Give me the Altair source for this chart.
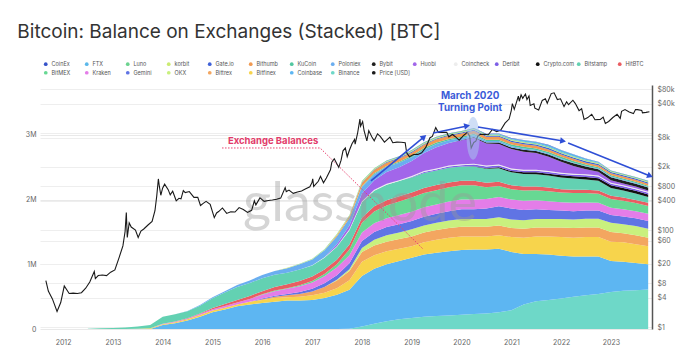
import altair as alt
import pandas as pd

TITLE = "Bitcoin: Balance on Exchanges (Stacked) [BTC]"

legend_names = ["CoinEx", "FTX", "Luno", "korbit", "Gate.io", "Bithumb", "KuCoin", "Poloniex",
                "Bybit", "Huobi", "Coincheck", "Deribit", "Crypto.com", "Bitstamp", "HitBTC",
                "BitMEX", "Kraken", "Gemini", "OKX", "Bittrex", "Bitfinex", "Coinbase", "Binance",
                "Price [USD]"]
legend_colors = ["#3653c9", "#5bb8ea", "#6cd38f", "#cbeb72", "#4062d8", "#f19a52", "#52c7a0", "#6aaef0",
                 "#1f1f1f", "#a266ea", "#ededed", "#7d5fe6", "#111111", "#63d1b2", "#ea5d62",
                 "#67d893", "#e47de8", "#6074e4", "#c9f07e", "#f3a660", "#f7d44c", "#5db6f2", "#6ed8c8",
                 "#1a1a1a"]

stack_bottom_up = ["Binance", "Coinbase", "Bitfinex", "Bittrex", "OKX", "Gemini", "Kraken", "BitMEX",
                   "HitBTC", "Bitstamp", "Crypto.com", "Deribit", "Coincheck", "Huobi", "Bybit",
                   "Poloniex", "KuCoin", "Bithumb", "Gate.io", "korbit", "Luno", "FTX", "CoinEx"]

# quarterly sample dates 2012-07 .. 2023-10
quarter_dates = [d.strftime("%Y-%m-%d") for d in pd.date_range("2012-07-01", "2023-10-01", freq="QS")]

# balances in thousands of BTC (2012: 2 values, then 4 per year)
balances_k = {
    "Binance":    [0,0, 0,0,0,0, 0,0,0,0, 0,0,0,0, 0,0,0,0, 0,0,0,5, 40,80,120,150, 170,190,200,210, 220,230,240,260, 290,380,430,450, 470,500,520,540, 570,590,600,610],
    "Coinbase":   [0,0, 0,0,0,0, 60,90,130,190, 260,300,350,380, 400,420,440,440, 450,480,530,600, 780,850,880,900, 930,960,980,990, 1000,1000,990,980, 900,780,730,700, 660,620,600,580, 480,450,420,390],
    "Bitfinex":   [0,0, 0,0,5,10, 15,15,20,25, 25,30,30,40, 50,60,50,60, 70,80,100,150, 220,210,200,190, 180,190,200,210, 210,200,200,210, 230,250,270,280, 290,290,300,300, 300,300,290,280],
    "Bittrex":    [0,0, 0,0,0,0, 0,0,0,0, 0,0,0,0, 10,20,30,40, 60,90,120,140, 150,150,150,150, 150,150,150,150, 150,150,150,150, 140,140,140,140, 150,150,150,150, 150,140,140,130],
    "OKX":        [0,0, 0,0,0,0, 0,0,0,0, 0,0,0,0, 0,0,0,0, 0,0,10,30, 60,90,100,100, 110,110,110,115, 120,120,120,125, 130,130,130,130, 130,130,135,135, 140,140,140,140],
    "Gemini":     [0,0, 0,0,0,0, 0,0,0,0, 0,0,0,0, 10,15,20,30, 40,55,70,90, 110,120,125,130, 130,135,140,145, 150,150,160,170, 170,160,150,140, 130,130,125,125, 120,120,120,120],
    "Kraken":     [0,0, 0,0,0,0, 5,8,10,15, 20,25,30,45, 60,70,80,90, 100,110,120,125, 130,135,135,140, 140,145,145,150, 150,150,150,145, 140,140,140,135, 130,130,125,120, 115,110,110,110],
    "BitMEX":     [0,0, 0,0,0,0, 0,0,0,0, 0,0,0,0, 5,8,10,15, 20,35,50,90, 150,180,200,210, 220,220,220,220, 220,220,180,170, 160,160,155,155, 150,150,145,140, 135,130,125,120],
    "HitBTC":     [0,0, 0,0,0,0, 0,3,5,10, 20,30,40,45, 50,55,60,65, 70,70,70,75, 80,80,80,80, 80,80,80,75, 70,70,70,65, 60,60,55,55, 50,50,50,50, 50,50,50,50],
    "Bitstamp":   [5,10, 15,25,35,50, 110,110,110,120, 150,180,200,200, 200,190,180,180, 170,180,200,220, 240,240,240,235, 230,230,225,225, 220,220,215,210, 200,195,190,185, 180,175,160,150, 120,110,100,90],
    "Crypto.com": [0,0, 0,0,0,0, 0,0,0,0, 0,0,0,0, 0,0,0,0, 0,0,0,0, 0,0,0,0, 0,0,0,0, 0,5,10,15, 20,25,30,30, 35,35,40,40, 40,40,40,40],
    "Deribit":    [0,0, 0,0,0,0, 0,0,0,0, 0,0,0,0, 0,0,0,0, 0,0,0,0, 0,0,0,0, 10,15,15,20, 20,25,25,25, 25,25,25,25, 25,25,25,25, 25,25,25,25],
    "Coincheck":  [0,0, 0,0,0,0, 0,0,0,0, 0,0,0,0, 0,0,0,0, 5,8,10,15, 15,15,15,15, 15,15,15,15, 15,15,15,15, 15,15,15,15, 15,15,15,15, 15,15,15,15],
    "Huobi":      [0,0, 0,0,0,0, 0,0,0,0, 0,0,0,0, 0,0,0,0, 0,0,30,60, 120,150,180,200, 230,280,330,350, 370,400,340,320, 300,280,260,220, 170,120,80,60, 40,30,25,20],
    "Bybit":      [0,0, 0,0,0,0, 0,0,0,0, 0,0,0,0, 0,0,0,0, 0,0,0,0, 0,0,0,0, 0,0,0,0, 5,10,15,20, 25,30,30,35, 35,40,40,40, 45,45,45,45],
    "Poloniex":   [0,0, 0,0,0,0, 0,0,5,10, 15,20,30,40, 50,60,70,80, 90,110,120,110, 100,90,80,70, 60,55,50,40, 30,30,25,25, 20,20,15,15, 15,10,10,10, 10,10,10,10],
    "KuCoin":     [0,0, 0,0,0,0, 0,0,0,0, 0,0,0,0, 0,0,0,0, 0,0,0,0, 10,15,15,15, 20,20,20,20, 20,20,20,20, 25,25,25,25, 25,25,20,20, 20,20,20,20],
    "Bithumb":    [0,0, 0,0,0,0, 0,0,0,0, 0,0,0,0, 0,0,0,0, 0,0,20,30, 50,50,50,50, 50,50,50,50, 50,50,45,45, 40,40,40,40, 35,35,30,30, 30,30,30,30],
    "Gate.io":    [0,0, 0,0,0,0, 0,0,0,0, 0,0,0,0, 0,0,0,0, 0,0,0,0, 10,10,10,10, 15,15,15,15, 15,15,15,15, 20,20,20,20, 20,20,20,20, 20,20,20,20],
    "korbit":     [0,0, 0,0,0,0, 0,0,0,0, 0,0,0,0, 0,0,5,5, 5,8,10,10, 10,10,10,10, 10,10,10,10, 10,10,10,10, 10,10,10,10, 10,10,10,10, 10,10,10,10],
    "Luno":       [0,0, 0,0,0,0, 0,0,0,0, 0,0,0,0, 0,0,3,5, 5,5,8,8, 10,10,10,10, 10,10,10,10, 10,10,10,10, 10,10,10,10, 10,10,10,10, 10,10,10,10],
    "FTX":        [0,0, 0,0,0,0, 0,0,0,0, 0,0,0,0, 0,0,0,0, 0,0,0,0, 0,0,0,0, 0,0,0,0, 0,0,5,10, 15,20,20,25, 25,25,20,10, 0,0,0,0],
    "CoinEx":     [0,0, 0,0,0,0, 0,0,0,0, 0,0,0,0, 0,0,0,0, 0,0,0,0, 0,0,5,5, 5,5,5,5, 5,5,5,5, 5,5,5,5, 5,5,5,5, 5,5,5,5],
}

price_dates = [
    "2011-08-28", "2011-09-15", "2011-10-15", "2011-11-18", "2011-12-15",
    "2012-01-10", "2012-02-15", "2012-03-15", "2012-04-15", "2012-05-15", "2012-06-15", "2012-07-15",
    "2012-08-17", "2012-08-25", "2012-09-15", "2012-10-15", "2012-11-15", "2012-12-15",
    "2013-01-15", "2013-02-15", "2013-03-15", "2013-03-31", "2013-04-09", "2013-04-16", "2013-04-30",
    "2013-05-15", "2013-06-15", "2013-07-05", "2013-07-25", "2013-08-15", "2013-09-15", "2013-10-15",
    "2013-11-05", "2013-11-18", "2013-11-30", "2013-12-07", "2013-12-18", "2013-12-31",
    "2014-01-15", "2014-02-10", "2014-02-25", "2014-03-15", "2014-04-10", "2014-04-30", "2014-05-15",
    "2014-06-01", "2014-06-15", "2014-07-15", "2014-08-18", "2014-09-15", "2014-10-05", "2014-10-25",
    "2014-11-15", "2014-12-15",
    "2015-01-14", "2015-01-31", "2015-02-15", "2015-03-15", "2015-04-15", "2015-05-15", "2015-06-15",
    "2015-07-15", "2015-08-15", "2015-09-15", "2015-10-15", "2015-11-04", "2015-11-15", "2015-12-15",
    "2016-01-15", "2016-02-15", "2016-03-15", "2016-04-15", "2016-05-15", "2016-06-17", "2016-06-25",
    "2016-07-15", "2016-08-15", "2016-09-15", "2016-10-15", "2016-11-15", "2016-12-15", "2016-12-31",
    "2017-01-05", "2017-01-12", "2017-02-15", "2017-03-03", "2017-03-25", "2017-04-15", "2017-05-15",
    "2017-05-25", "2017-06-12", "2017-07-15", "2017-08-01", "2017-08-15", "2017-09-01", "2017-09-15",
    "2017-10-01", "2017-10-20", "2017-11-08", "2017-11-12", "2017-11-30", "2017-12-17", "2017-12-22",
    "2018-01-06", "2018-01-17", "2018-02-06", "2018-02-20", "2018-03-15", "2018-04-01", "2018-04-25",
    "2018-05-15", "2018-06-15", "2018-07-25", "2018-08-15", "2018-09-15", "2018-10-15", "2018-11-14",
    "2018-11-25", "2018-12-15",
    "2019-01-15", "2019-02-15", "2019-03-15", "2019-04-15", "2019-05-15", "2019-06-01", "2019-06-26",
    "2019-07-15", "2019-08-15", "2019-09-15", "2019-09-30", "2019-10-26", "2019-11-15", "2019-12-15",
    "2020-01-15", "2020-02-13", "2020-03-01", "2020-03-12", "2020-03-31", "2020-04-15", "2020-04-30",
    "2020-05-15", "2020-06-15", "2020-07-15", "2020-08-15", "2020-09-15", "2020-10-15", "2020-11-15",
    "2020-12-15", "2020-12-31",
    "2021-01-08", "2021-01-22", "2021-02-21", "2021-02-28", "2021-03-13", "2021-03-25", "2021-04-14",
    "2021-04-25", "2021-05-10", "2021-05-19", "2021-06-15", "2021-06-22", "2021-07-20", "2021-08-15",
    "2021-09-07", "2021-09-21", "2021-10-20", "2021-11-10", "2021-12-04", "2021-12-27",
    "2022-01-22", "2022-02-10", "2022-02-24", "2022-03-28", "2022-04-15", "2022-05-12", "2022-05-31",
    "2022-06-18", "2022-07-15", "2022-08-13", "2022-09-06", "2022-10-15", "2022-11-05", "2022-11-21",
    "2022-12-15",
    "2023-01-15", "2023-02-15", "2023-03-10", "2023-03-20", "2023-04-14", "2023-05-15", "2023-06-15",
    "2023-06-30", "2023-07-15", "2023-08-15", "2023-08-20", "2023-09-15", "2023-10-10",
]
price_usd = [
    9, 5.5, 3.8, 2.1, 3.2,
    7, 4.9, 5.0, 4.9, 5.1, 6.3, 8.5,
    14, 10, 11.5, 11.8, 11.5, 13.5,
    15, 27, 47, 93, 230, 70, 140,
    115, 100, 70, 95, 105, 127, 150,
    250, 500, 1130, 800, 520, 730,
    880, 680, 530, 630, 400, 450, 440,
    650, 590, 620, 470, 470, 320, 355,
    390, 340,
    180, 225, 240, 285, 220, 237, 235,
    290, 265, 230, 255, 400, 330, 460,
    390, 405, 415, 430, 455, 750, 620,
    665, 570, 610, 640, 710, 780, 960,
    1130, 790, 1010, 1280, 940, 1180, 1750,
    2500, 2950, 1950, 2750, 4300, 4900, 3250,
    4400, 6000, 7400, 5900, 9900, 19300, 13800,
    17200, 11000, 6900, 11200, 8250, 6900, 9600,
    8500, 6500, 8200, 6300, 6500, 6450, 6300,
    3900, 3250,
    3600, 3620, 3900, 5100, 8000, 8500, 12900,
    10300, 10300, 10300, 8300, 9300, 8500, 7100,
    8800, 10300, 8600, 4900, 6400, 6800, 8700,
    9300, 9400, 9200, 11800, 10700, 11500, 16000,
    19400, 29000,
    40500, 30800, 57500, 45200, 61200, 52000, 63500,
    49000, 58000, 37000, 40000, 32500, 29800, 47000,
    51000, 41000, 65000, 67500, 49000, 50700,
    35000, 44000, 38300, 47400, 40500, 29000, 31700,
    19000, 20800, 24400, 18800, 19100, 21300, 15800,
    17300,
    20900, 24300, 20000, 28000, 30400, 27200, 25100,
    30500, 30300, 29200, 26100, 26600, 27400,
]

# annotation data (dates and values in the balance scale)
arrow_id = [1, 1, 2, 2, 3, 3, 4, 4]
arrow_dates = ["2018-03-08", "2019-04-01", "2019-06-07", "2020-02-11",
               "2020-05-01", "2022-01-15", "2022-02-21", "2023-10-15"]
arrow_bal = [2.287e6, 2.967e6, 3.028e6, 3.137e6, 3.121e6, 2.905e6, 2.874e6, 2.364e6]
head_dates = ["2019-04-01", "2020-02-11", "2022-01-15", "2023-10-15"]
head_bal = [2.967e6, 3.137e6, 2.905e6, 2.364e6]
head_angle = [320, 348, 9, 22]

pointer_dates = ["2015-03-12", "2017-02-28", "2019-03-25"]
pointer_bal = [2.797e6, 2.797e6, 1.236e6]

label_texts = ["Exchange Balances", "March 2020", "Turning Point"]
label_dates = ["2016-03-20", "2020-03-04", "2020-03-04"]
label_bal = [2.905e6, 3.600e6, 3.415e6]
label_colors = ["#e23b6a", "#3b5bd8", "#3b5bd8"]
label_sizes = [9.5, 9.8, 9.8]

ellipse_date = ["2020-03-26"]
ellipse_bal = [2.948e6]

watermark_date = ["2017-12-18"]
watermark_bal = [1.916e6]

# ---------------- data frames ----------------
rows = []
for rank, name in enumerate(stack_bottom_up):
    vals = balances_k[name]
    assert len(vals) == len(quarter_dates), name
    for d, v in zip(quarter_dates, vals):
        rows.append({"date": d, "series": name, "btc": v * 1000, "rank": rank})
bal_df = pd.DataFrame(rows)

price_df = pd.DataFrame({"date": price_dates, "price": price_usd, "series": "Price [USD]"})
arrow_df = pd.DataFrame({"id": arrow_id, "date": arrow_dates, "bal": arrow_bal})
head_df = pd.DataFrame({"date": head_dates, "bal": head_bal, "ang": head_angle})
pointer_df = pd.DataFrame({"date": pointer_dates, "bal": pointer_bal})
label_df = pd.DataFrame({"text": label_texts, "date": label_dates, "bal": label_bal,
                         "col": label_colors, "fs": label_sizes})
ellipse_df = pd.DataFrame({"date": ellipse_date, "bal": ellipse_bal})
wm_df = pd.DataFrame({"date": watermark_date, "bal": watermark_bal})

# ---------------- scales / axes ----------------
FONT = "Inter"
x_scale = alt.Scale(type="utc", domain=[alt.DateTime(year=2011, month=7, date=16, utc=True),
                                        alt.DateTime(year=2023, month=10, date=29, utc=True)])
x_axis = alt.Axis(values=[alt.DateTime(year=y, month=1, date=1, utc=True) for y in range(2012, 2024)],
                  format="%Y", title=None, grid=False, domain=False, ticks=False,
                  labelColor="#666", labelFontSize=7, labelPadding=9, labelFont=FONT)
X = alt.X("date:T", scale=x_scale, axis=x_axis)

bal_scale = alt.Scale(domain=[0, 3.77e6], nice=False, zero=True)
left_axis = alt.Axis(orient="left", values=[0, 1e6, 2e6, 3e6],
                     labelExpr="datum.value == 0 ? '0' : (datum.value / 1000000) + 'M'",
                     title=None, domain=False, ticks=False, labelColor="#666", labelFontSize=7,
                     labelPadding=4, labelFont=FONT, grid=True, gridColor="#e9e9e9")

price_axis = alt.Axis(orient="right", values=[1, 4, 8, 20, 60, 100, 400, 800, 2000, 8000, 10000, 40000, 80000],
                      labelExpr="datum.value >= 1000 ? '$' + (datum.value / 1000) + 'k' : '$' + datum.value",
                      title=None, domain=True, domainColor="#555", domainWidth=1.5, ticks=False,
                      labelColor="#666", labelFontSize=7, labelPadding=5, labelFont=FONT,
                      grid=True, gridColor="#eeeeee")

color_enc = alt.Color("series:N", scale=alt.Scale(domain=legend_names, range=legend_colors),
                      legend=alt.Legend(title=None, orient="none", legendX=3, legendY=-24,
                                        direction="horizontal", columns=15, gridAlign="all",
                                        symbolType="circle", symbolSize=14, symbolStrokeWidth=0,
                                        labelFontSize=5.5, labelColor="#555", labelFont=FONT,
                                        columnPadding=1, rowPadding=2, labelLimit=80, labelOffset=3))

# ---------------- layers ----------------
areas = alt.Chart(bal_df).mark_area(interpolate="linear").encode(
    x=X,
    y=alt.Y("btc:Q", stack="zero", scale=bal_scale, axis=left_axis),
    color=color_enc,
    order=alt.Order("rank:Q", sort="ascending"),
)

watermark = alt.Chart(wm_df).mark_text(text="glassnode", font="Lato", fontSize=54, color="#999999",
                                       opacity=0.4, align="center", baseline="middle").encode(
    x=X, y=alt.Y("bal:Q", scale=bal_scale, axis=left_axis))

pointer = alt.Chart(pointer_df).mark_line(color="#e8436f", strokeDash=[1.5, 1.5], strokeWidth=1).encode(
    x=X, y=alt.Y("bal:Q", scale=bal_scale, axis=left_axis))

lower = alt.layer(areas, watermark, pointer)

price_line = alt.Chart(price_df).mark_line(strokeWidth=1.1).encode(
    x=X,
    y=alt.Y("price:Q", scale=alt.Scale(type="log", domain=[0.91, 97700], nice=False), axis=price_axis),
    color=color_enc,
)

bal_y = alt.Y("bal:Q", scale=bal_scale, axis=None)
arrows = alt.Chart(arrow_df).mark_line(color="#2f4fd6", strokeWidth=1.6).encode(
    x=X, y=bal_y, detail="id:N")
heads = alt.Chart(head_df).mark_point(shape="triangle-right", filled=True, size=45, color="#2f4fd6",
                                      opacity=1).encode(
    x=X, y=bal_y, angle=alt.Angle("ang:Q", scale=None))
ellipse = alt.Chart(ellipse_df).mark_point(
    shape="M0,-1 A0.3,1 0 1,1 0,1 A0.3,1 0 1,1 0,-1 Z", filled=True, size=1849,
    color="#a8c3ef", opacity=0.55, strokeWidth=0).encode(x=X, y=bal_y)
labels = alt.Chart(label_df).mark_text(font=FONT, fontWeight="bold",
                                       align="center", baseline="middle").encode(
    x=X, y=bal_y, text="text:N", color=alt.Color("col:N", scale=None),
    size=alt.Size("fs:Q", scale=None))

upper = alt.layer(ellipse, arrows, heads, labels)

chart = alt.layer(lower, price_line, upper).resolve_scale(y="independent").properties(
    width=612, height=244,
    title=alt.Title(TITLE, anchor="start", fontSize=19, font=FONT, fontWeight="normal",
                    color="#333333", dx=-8, offset=19),
    padding={"left": 40, "top": 85, "right": 25, "bottom": 22},
    autosize=alt.AutoSizeParams(type="none"),
    background="white",
).configure_view(stroke=None)

chart.save("out.html", embed_options={"renderer": "svg", "actions": False})
